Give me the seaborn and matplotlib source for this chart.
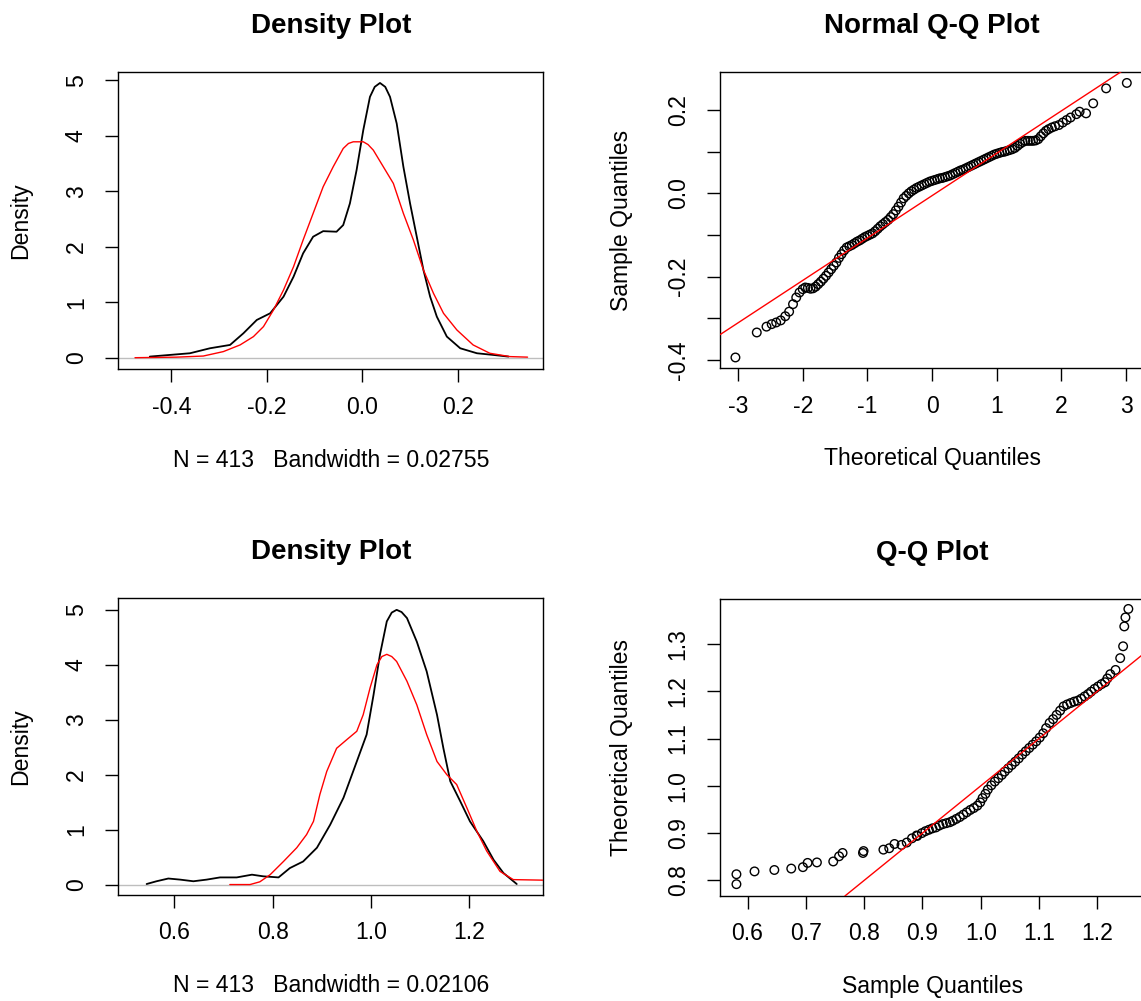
import matplotlib
matplotlib.use("Agg")
import matplotlib.pyplot as plt
import seaborn as sns
import numpy as np

# ---------------- data ----------------
# Panel 1: density (black) and normal density (red)
d1_black_x = [-0.445, -0.403, -0.361, -0.319, -0.277, -0.249, -0.221, -0.193, -0.165, -0.144,
              -0.124, -0.103, -0.082, -0.054, -0.040, -0.026, -0.012, 0.002, 0.016, 0.026,
              0.037, 0.048, 0.058, 0.072, 0.086, 0.100, 0.114, 0.128, 0.142, 0.156,
              0.177, 0.205, 0.240, 0.274, 0.306]
d1_black_y = [0.02, 0.05, 0.08, 0.17, 0.23, 0.44, 0.68, 0.80, 1.10, 1.46,
              1.88, 2.18, 2.28, 2.27, 2.39, 2.78, 3.38, 4.10, 4.70, 4.88,
              4.95, 4.88, 4.70, 4.22, 3.44, 2.78, 2.18, 1.58, 1.10, 0.74,
              0.38, 0.17, 0.08, 0.05, 0.02]
d1_red_x = [-0.476, -0.389, -0.333, -0.291, -0.256, -0.228, -0.207, -0.186, -0.165, -0.144,
            -0.124, -0.103, -0.082, -0.061, -0.040, -0.029, -0.019, 0.002, 0.012, 0.023,
            0.044, 0.065, 0.086, 0.107, 0.128, 0.149, 0.170, 0.198, 0.232, 0.267,
            0.309, 0.346]
d1_red_y = [0.0, 0.01, 0.03, 0.11, 0.23, 0.38, 0.56, 0.86, 1.22, 1.64,
            2.12, 2.60, 3.08, 3.44, 3.77, 3.86, 3.89, 3.89, 3.84, 3.74,
            3.44, 3.14, 2.60, 2.12, 1.58, 1.16, 0.80, 0.50, 0.23, 0.08,
            0.02, 0.01]
d1_xlabel = "N = 413   Bandwidth = 0.02755"

# Panel 3: density (black) and fitted density (red)
d2_black_x = [0.544, 0.564, 0.588, 0.612, 0.639, 0.666, 0.693, 0.727, 0.758, 0.781,
              0.812, 0.835, 0.862, 0.890, 0.917, 0.944, 0.971, 0.991, 1.005, 1.018,
              1.032, 1.042, 1.052, 1.062, 1.073, 1.093, 1.113, 1.134, 1.147, 1.161,
              1.181, 1.201, 1.228, 1.249, 1.269, 1.296]
d2_black_y = [0.01, 0.06, 0.11, 0.09, 0.06, 0.09, 0.13, 0.13, 0.18, 0.15,
              0.13, 0.30, 0.42, 0.67, 1.09, 1.58, 2.24, 2.73, 3.45, 4.18,
              4.79, 4.95, 5.00, 4.96, 4.85, 4.42, 3.88, 3.09, 2.48, 1.88,
              1.52, 1.15, 0.79, 0.45, 0.21, 0.01]
d2_red_x = [0.713, 0.754, 0.774, 0.795, 0.822, 0.849, 0.869, 0.883, 0.896, 0.910,
            0.930, 0.951, 0.971, 0.984, 0.998, 1.012, 1.022, 1.032, 1.042, 1.052,
            1.073, 1.093, 1.113, 1.134, 1.154, 1.174, 1.195, 1.215, 1.235, 1.262,
            1.289, 1.350]
d2_red_y = [0.0, 0.0, 0.05, 0.18, 0.42, 0.67, 0.91, 1.15, 1.64, 2.06,
            2.48, 2.64, 2.79, 3.09, 3.58, 4.00, 4.15, 4.19, 4.15, 4.06,
            3.70, 3.27, 2.73, 2.24, 2.00, 1.82, 1.39, 0.97, 0.61, 0.24,
            0.09, 0.08]
d2_xlabel = "N = 413   Bandwidth = 0.02106"

# Panel 2: normal Q-Q plot
qq1_theoretical = [-3.04, -2.71, -2.56, -2.48, -2.41, -2.34, -2.27, -2.21, -2.15, -2.10,
                   -2.05, -2.00, -1.96, -1.92, -1.88, -1.84, -1.80, -1.76, -1.72, -1.68,
                   -1.64, -1.60, -1.56, -1.52, -1.48, -1.44, -1.40, -1.36, -1.32, -1.28,
                   -1.24, -1.20, -1.16, -1.12, -1.08, -1.04, -1.00, -0.96, -0.92, -0.88,
                   -0.84, -0.80, -0.76, -0.72, -0.68, -0.64, -0.60, -0.56, -0.52, -0.48,
                   -0.44, -0.40, -0.36, -0.32, -0.28, -0.24, -0.20, -0.16, -0.12, -0.08,
                   -0.04, 0.00, 0.04, 0.08, 0.12, 0.16, 0.20, 0.24, 0.28, 0.32,
                   0.36, 0.40, 0.44, 0.48, 0.52, 0.56, 0.60, 0.64, 0.68, 0.72,
                   0.76, 0.80, 0.84, 0.88, 0.92, 0.96, 1.00, 1.04, 1.08, 1.12,
                   1.16, 1.20, 1.24, 1.28, 1.32, 1.36, 1.40, 1.44, 1.48, 1.52,
                   1.56, 1.60, 1.64, 1.68, 1.72, 1.76, 1.80, 1.85, 1.90, 1.96,
                   2.02, 2.08, 2.14, 2.23, 2.28, 2.38, 2.49, 2.69, 3.01]
qq1_sample = [-0.394, -0.334, -0.320, -0.314, -0.310, -0.305, -0.295, -0.284, -0.266, -0.250,
              -0.238, -0.230, -0.226, -0.227, -0.229, -0.228, -0.224, -0.218, -0.212, -0.205,
              -0.198, -0.190, -0.182, -0.174, -0.166, -0.155, -0.146, -0.137, -0.130, -0.127,
              -0.124, -0.120, -0.116, -0.113, -0.109, -0.105, -0.102, -0.099, -0.096, -0.091,
              -0.085, -0.079, -0.074, -0.069, -0.064, -0.057, -0.050, -0.041, -0.032, -0.022,
              -0.012, -0.006, 0.000, 0.005, 0.009, 0.013, 0.016, 0.019, 0.022, 0.025,
              0.028, 0.030, 0.032, 0.034, 0.036, 0.037, 0.039, 0.041, 0.043, 0.046,
              0.049, 0.052, 0.055, 0.057, 0.060, 0.063, 0.066, 0.069, 0.072, 0.075,
              0.078, 0.081, 0.084, 0.087, 0.090, 0.093, 0.095, 0.097, 0.099, 0.100,
              0.102, 0.104, 0.106, 0.109, 0.114, 0.119, 0.123, 0.126, 0.126, 0.126,
              0.126, 0.127, 0.130, 0.137, 0.144, 0.150, 0.154, 0.158, 0.161, 0.164,
              0.170, 0.176, 0.182, 0.190, 0.196, 0.192, 0.216, 0.252, 0.265]
qq1_line_intercept = -0.0055
qq1_line_slope = 0.1018

# Panel 4: Q-Q plot (sample on x, theoretical on y)
qq2_sample = [0.581, 0.581, 0.612, 0.646, 0.675, 0.695, 0.703, 0.719, 0.747, 0.757,
              0.763, 0.798, 0.799, 0.833, 0.843, 0.852, 0.864, 0.873, 0.882, 0.890,
              0.891, 0.899, 0.905, 0.911, 0.917, 0.923, 0.929, 0.935, 0.941, 0.947,
              0.952, 0.958, 0.964, 0.970, 0.976, 0.982, 0.988, 0.994, 0.999, 1.003,
              1.008, 1.012, 1.018, 1.024, 1.030, 1.036, 1.041, 1.047, 1.053, 1.059,
              1.065, 1.071, 1.077, 1.083, 1.089, 1.095, 1.101, 1.107, 1.112, 1.118,
              1.124, 1.130, 1.136, 1.142, 1.148, 1.154, 1.160, 1.166, 1.172, 1.178,
              1.184, 1.189, 1.195, 1.201, 1.207, 1.213, 1.217, 1.222, 1.231, 1.239,
              1.244, 1.246, 1.248, 1.253]
qq2_theoretical = [0.792, 0.813, 0.819, 0.822, 0.825, 0.828, 0.837, 0.838, 0.840, 0.851,
                   0.858, 0.858, 0.862, 0.865, 0.868, 0.877, 0.875, 0.880, 0.889, 0.895,
                   0.894, 0.900, 0.904, 0.907, 0.910, 0.912, 0.916, 0.919, 0.921, 0.923,
                   0.926, 0.930, 0.934, 0.939, 0.944, 0.949, 0.953, 0.958, 0.965, 0.974,
                   0.983, 0.992, 1.001, 1.009, 1.016, 1.023, 1.030, 1.037, 1.044, 1.051,
                   1.058, 1.066, 1.073, 1.080, 1.087, 1.094, 1.102, 1.111, 1.122, 1.133,
                   1.141, 1.150, 1.159, 1.168, 1.172, 1.175, 1.178, 1.180, 1.184, 1.189,
                   1.194, 1.199, 1.205, 1.210, 1.215, 1.219, 1.227, 1.236, 1.245, 1.270,
                   1.295, 1.337, 1.356, 1.374]
qq2_line_intercept = 0.0
qq2_line_slope = 1.0

titles = ["Density Plot", "Normal Q-Q Plot", "Density Plot", "Q-Q Plot"]

# ---------------- styling ----------------
sns.set_style("white")
plt.rcParams["font.family"] = ["Liberation Sans", "DejaVu Sans"]
plt.rcParams["axes.unicode_minus"] = False
plt.rcParams["text.color"] = "black"
plt.rcParams["axes.labelcolor"] = "black"
plt.rcParams["xtick.color"] = "black"
plt.rcParams["ytick.color"] = "black"

W, H = 1141, 1001
fig = plt.figure(figsize=(W / 100, H / 100), dpi=100)
fig.patch.set_facecolor("white")

def frac(l, t, r, b):
    return [l / W, 1 - b / H, (r - l) / W, (b - t) / H]

ax1 = fig.add_axes(frac(118.3, 71.7, 543.3, 369.3))
ax2 = fig.add_axes(frac(720.1, 71.7, 1144.1, 368.3))
ax3 = fig.add_axes(frac(118.3, 598.3, 543.3, 895.0))
ax4 = fig.add_axes(frac(720.1, 599.0, 1144.1, 896.0))

FS = 16.6
TFS = 20.0

def style(ax, title, xlabel, ylabel, ylab_x):
    for s in ax.spines.values():
        s.set_visible(True)
        s.set_color("black")
        s.set_linewidth(1.0)
    ax.set_facecolor("white")
    ax.grid(False)
    ax.tick_params(axis="both", direction="out", length=9.4, width=1.0,
                   color="black", labelsize=FS, labelcolor="black")
    ax.tick_params(axis="x", pad=9.5, bottom=True)
    ax.tick_params(axis="y", pad=12.5, left=True, labelrotation=90)
    for lab in ax.get_yticklabels():
        lab.set_va("center")
    ax.set_title(title, fontsize=TFS, fontweight="bold", pad=28, color="black")
    ax.set_xlabel(xlabel, fontsize=FS, va="center", color="black")
    ax.xaxis.set_label_coords(0.5, -0.305)
    ax.set_ylabel(ylabel, fontsize=FS, va="center", color="black")
    ax.yaxis.set_label_coords(ylab_x, 0.5)

# ---- Panel 1 ----
ax1.axhline(0, color="#BEBEBE", lw=1.0, zorder=1)
sns.lineplot(x=d1_black_x, y=d1_black_y, ax=ax1, color="black", lw=1.3,
             estimator=None, sort=False, zorder=3)
sns.lineplot(x=d1_red_x, y=d1_red_y, ax=ax1, color="red", lw=1.0,
             estimator=None, sort=False, zorder=4)
ax1.set_xlim(-0.511, 0.379)
ax1.set_ylim(-0.209, 5.153)
ax1.set_xticks([-0.4, -0.2, 0.0, 0.2], ["-0.4", "-0.2", "0.0", "0.2"])
ax1.set_yticks([0, 1, 2, 3, 4, 5], ["0", "1", "2", "3", "4", "5"])
style(ax1, titles[0], d1_xlabel, "Density", -0.231)

# ---- Panel 2 ----
sns.scatterplot(x=qq1_theoretical, y=qq1_sample, ax=ax2, marker="o", s=38,
                linewidth=1.0, zorder=3)
ax2.collections[-1].set_facecolor("none")
ax2.collections[-1].set_edgecolor("black")
ax2.axline((0, qq1_line_intercept), slope=qq1_line_slope, color="red", lw=1.0, zorder=4)
ax2.set_xlim(-3.277, 3.277)
ax2.set_ylim(-0.420, 0.292)
ax2.set_xticks([-3, -2, -1, 0, 1, 2, 3], ["-3", "-2", "-1", "0", "1", "2", "3"])
ax2.set_yticks([-0.4, -0.3, -0.2, -0.1, 0.0, 0.1, 0.2],
               ["-0.4", "", "-0.2", "", "0.0", "", "0.2"])
style(ax2, titles[1], "Theoretical Quantiles", "Sample Quantiles", -0.2325)

# ---- Panel 3 ----
ax3.axhline(0, color="#BEBEBE", lw=1.0, zorder=1)
sns.lineplot(x=d2_black_x, y=d2_black_y, ax=ax3, color="black", lw=1.3,
             estimator=None, sort=False, zorder=3)
sns.lineplot(x=d2_red_x, y=d2_red_y, ax=ax3, color="red", lw=1.0,
             estimator=None, sort=False, zorder=4)
ax3.set_xlim(0.4864, 1.350)
ax3.set_ylim(-0.19, 5.21)
ax3.set_xticks([0.6, 0.8, 1.0, 1.2], ["0.6", "0.8", "1.0", "1.2"])
ax3.set_yticks([0, 1, 2, 3, 4, 5], ["0", "1", "2", "3", "4", "5"])
style(ax3, titles[2], d2_xlabel, "Density", -0.231)

# ---- Panel 4 ----
sns.scatterplot(x=qq2_sample, y=qq2_theoretical, ax=ax4, marker="o", s=38,
                linewidth=1.0, zorder=3)
ax4.collections[-1].set_facecolor("none")
ax4.collections[-1].set_edgecolor("black")
ax4.axline((0, qq2_line_intercept), slope=qq2_line_slope, color="red", lw=1.0, zorder=4)
ax4.set_xlim(0.553, 1.280)
ax4.set_ylim(0.767, 1.395)
ax4.set_xticks([0.6, 0.7, 0.8, 0.9, 1.0, 1.1, 1.2],
               ["0.6", "0.7", "0.8", "0.9", "1.0", "1.1", "1.2"])
ax4.set_yticks([0.8, 0.9, 1.0, 1.1, 1.2, 1.3], ["0.8", "0.9", "1.0", "1.1", "1.2", "1.3"])
style(ax4, titles[3], "Sample Quantiles", "Theoretical Quantiles", -0.2325)

fig.savefig("out.png", dpi=100, facecolor="white")
